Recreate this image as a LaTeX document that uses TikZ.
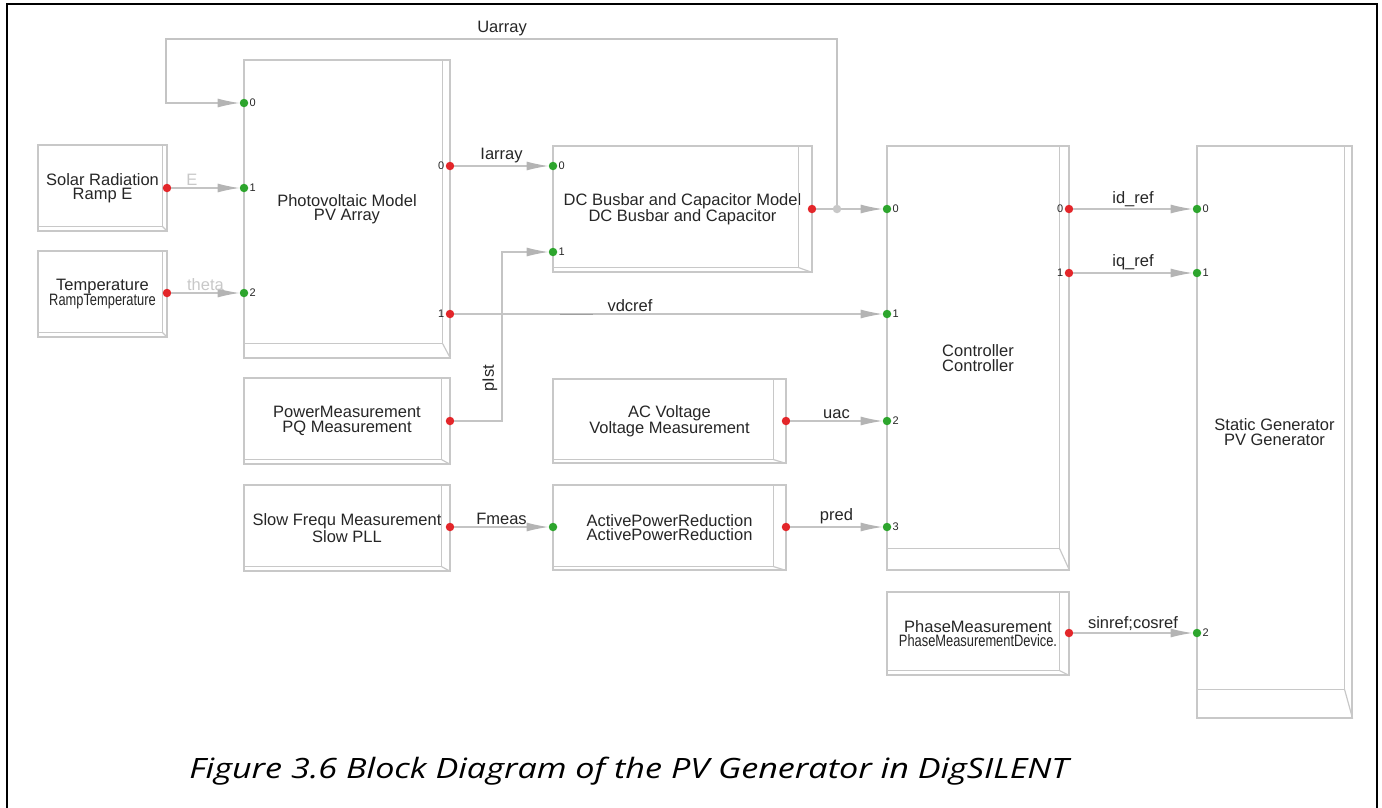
\documentclass[tikz,border=0pt]{standalone}
\usepackage{fontspec}
\setmainfont{Liberation Sans}
\newfontfamily\captionfont{Open Sans}
\usepackage{graphicx}
\usetikzlibrary{calc, arrows.meta}

\definecolor{boxgray}{HTML}{C8C8C8}
\definecolor{wiregray}{HTML}{C4C4C4}
\definecolor{tipgray}{HTML}{B4B4B4}
\definecolor{portred}{HTML}{E3262A}
\definecolor{portgreen}{HTML}{2DA52D}
\definecolor{inkgray}{HTML}{262626}

\begin{document}
\begin{tikzpicture}[x=1pt, y=-1pt,
    block/.style={draw=boxgray, line width=1.2pt, rectangle, inner sep=0pt, align=center,
        text=inkgray, font=\fontsize{16.5}{14.5}\selectfont},
    boxline/.style={draw=boxgray, line width=1.2pt},
    inport/.style={circle, fill=portgreen, minimum size=8.5pt, inner sep=0pt, label distance=3pt},
    outport/.style={circle, fill=portred, minimum size=8.5pt, inner sep=0pt, label distance=3pt},
    junction/.style={circle, fill=boxgray, minimum size=8.5pt, inner sep=0pt},
    portnum/.style={font=\fontsize{11}{11}\selectfont, text=inkgray, inner sep=1pt},
    wire/.style={draw=wiregray, line width=1.2pt},
    sig/.style={wire, -{Latex[length=22pt, width=9pt, color=tipgray]}},
    siglab/.style={font=\fontsize{16.5}{16.5}\selectfont, text=inkgray, inner sep=2pt},
    faintlab/.style={siglab, text=boxgray}]

    \useasboundingbox (0,0) rectangle (1382,808);

    % Page frame
    \draw[line width=2pt] (7,808) -- (7,4) -- (1377,4) -- (1377,808);

    % Blocks
    \node[block, minimum width=129pt, minimum height=86pt] (solar) at (102.5,188) {Solar Radiation\\Ramp E};
    \node[block, minimum width=129pt, minimum height=86pt] (temp) at (102.5,294) {Temperature\\\scalebox{0.78}[1]{RampTemperature}};
    \node[block, minimum width=206pt, minimum height=298pt] (pv) at (347,209) {Photovoltaic Model\\PV Array};
    \node[block, minimum width=259pt, minimum height=126pt] (dc) at (682.5,209) {DC Busbar and Capacitor Model\\DC Busbar and Capacitor};
    \node[block, minimum width=182pt, minimum height=424pt] (ctrl) at (978,358) {Controller\\Controller};
    \node[block, minimum width=155pt, minimum height=572pt] (sg) at (1274.5,432) {Static Generator\\PV Generator};
    \node[block, minimum width=206pt, minimum height=86pt] (pq) at (347,421) {PowerMeasurement\\PQ Measurement};
    \node[block, minimum width=206pt, minimum height=86pt] (pll) at (347,528) {Slow Frequ Measurement\\Slow PLL};
    \node[block, minimum width=233pt, minimum height=84pt] (ac) at (669.5,421) {AC Voltage\\Voltage Measurement};
    \node[block, minimum width=233pt, minimum height=85pt] (apr) at (669.5,527.5) {ActivePowerReduction\\ActivePowerReduction};
    \node[block, minimum width=182pt, minimum height=83pt] (phase) at (978,633.5) {PhaseMeasurement\\\scalebox{0.78}[1]{PhaseMeasurementDevice.}};

    % 3D edges of the blocks
    \foreach \blk/\dx/\dy in {solar/5/5, temp/5/5, pv/8/15, dc/14/5, ctrl/10/22, sg/8/29,
        pq/9/5, pll/9/5, ac/13/4, apr/13/4, phase/10/5} {
        \draw[boxline] ($(\blk.north east)+(-\dx,0)$) |- ($(\blk.south west)+(0,-\dy)$);
        \draw[boxline] ($(\blk.south east)+(-\dx,-\dy)$) -- (\blk.south east);
    }

    % Ports
    \node[outport] (solarO) at (167,188) {};
    \node[outport] (tempO) at (167,293) {};
    \node[inport, label={[portnum]right:0}] (pvI0) at (244,103) {};
    \node[inport, label={[portnum]right:1}] (pvI1) at (244,188) {};
    \node[inport, label={[portnum]right:2}] (pvI2) at (244,293) {};
    \node[outport, label={[portnum]left:0}] (pvO0) at (450,166) {};
    \node[outport, label={[portnum]left:1}] (pvO1) at (450,314) {};
    \node[inport, label={[portnum]right:0}] (dcI0) at (553,166) {};
    \node[inport, label={[portnum]right:1}] (dcI1) at (553,252) {};
    \node[outport] (dcO) at (812,209) {};
    \node[junction] (jct) at (837,209) {};
    \node[inport, label={[portnum]right:0}] (ctrlI0) at (887,209) {};
    \node[inport, label={[portnum]right:1}] (ctrlI1) at (887,314) {};
    \node[inport, label={[portnum]right:2}] (ctrlI2) at (887,421) {};
    \node[inport, label={[portnum]right:3}] (ctrlI3) at (887,527) {};
    \node[outport, label={[portnum]left:0}] (ctrlO0) at (1069,209) {};
    \node[outport, label={[portnum]left:1}] (ctrlO1) at (1069,273) {};
    \node[inport, label={[portnum]right:0}] (sgI0) at (1197,209) {};
    \node[inport, label={[portnum]right:1}] (sgI1) at (1197,273) {};
    \node[inport, label={[portnum]right:2}] (sgI2) at (1197,633) {};
    \node[outport] (pqO) at (450,421) {};
    \node[outport] (pllO) at (450,527) {};
    \node[inport] (aprI) at (553,527) {};
    \node[outport] (aprO) at (786,527) {};
    \node[outport] (acO) at (786,421) {};
    \node[outport] (phaseO) at (1069,633) {};

    % Signals
    \draw[sig] (solarO) -- node[faintlab, pos=0.3, above] (lE) {E} (pvI1);
    \draw[sig] (tempO) -- node[faintlab, pos=0.5, above] (ltheta) {theta} (pvI2);
    \draw[sig] (pvO0) -- node[siglab, above] (liarray) {Iarray} (dcI0);
    \draw[wire] (dcO) -- (jct);
    \draw[sig] (jct) -- (ctrlI0);
    \coordinate (fbtop) at (166,39);
    \draw[sig] (jct) |- (fbtop) |- (pvI0);
    \node[siglab] (luarray) at (502,29) {Uarray};
    \draw[sig] (pvO1) -- node[siglab, pos=0.41, above] (lvdcref) {vdcref} (ctrlI1);
    \draw[gray!75, line width=1pt] (560,314) -- (593,314);
    \coordinate (pstcorner) at (502,252);
    \draw[sig] (pqO) -| (pstcorner) -- (dcI1);
    \node[siglab, rotate=90] (lpist) at (490,378) {pIst};
    \draw[sig] (acO) -- node[siglab, above] (luac) {uac} (ctrlI2);
    \draw[sig] (pllO) -- node[siglab, above] (lfmeas) {Fmeas} (aprI);
    \draw[sig] (aprO) -- node[siglab, above] (lpred) {pred} (ctrlI3);
    \draw[sig] (ctrlO0) -- node[siglab, above] (lidref) {id\_ref} (sgI0);
    \draw[sig] (ctrlO1) -- node[siglab, above] (liqref) {iq\_ref} (sgI1);
    \draw[sig] (phaseO) -- node[siglab, above] (lsincos) {sinref;cosref} (sgI2);

    % Caption
    \node[font=\captionfont\itshape\fontsize{28}{28}\selectfont, text=black] (cap) at (629,771)
        {\scalebox{1.22}[1]{Figure 3.6 Block Diagram of the PV Generator in DigSILENT}};
\end{tikzpicture}
\end{document}
